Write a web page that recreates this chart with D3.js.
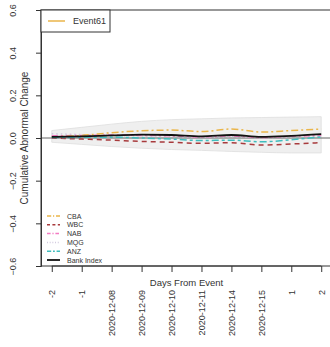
<!DOCTYPE html>
<html>
<head>
<meta charset="utf-8">
<script src="https://cdnjs.cloudflare.com/ajax/libs/d3/7.8.5/d3.min.js"></script>
<style>
  body { margin: 0; background: #fff; }
  svg { font-family: "Liberation Sans", Arial, sans-serif; }
</style>
</head>
<body>
<svg id="chart" width="330" height="347"></svg>
<script>
// tick labels on the x axis (day offsets and trading dates)
var dayLabels = ["-2", "-1", "2020-12-08", "2020-12-09", "2020-12-10", "2020-12-11", "2020-12-14", "2020-12-15", "1", "2"];
var yTicks = [-0.6, -0.4, -0.2, 0.0, 0.2, 0.4, 0.6];

// confidence band around the index
var bandUpper = [0.035, 0.05, 0.065, 0.078, 0.086, 0.09, 0.094, 0.096, 0.098, 0.10];
var bandLower = [-0.02, -0.03, -0.04, -0.048, -0.054, -0.058, -0.063, -0.067, -0.07, -0.07];

// cumulative abnormal change per bank
var cba  = [0.005, 0.012, 0.025, 0.034, 0.037, 0.03, 0.042, 0.028, 0.035, 0.042];
var wbc  = [0.0, -0.005, -0.01, -0.016, -0.02, -0.025, -0.022, -0.033, -0.028, -0.022];
var nab  = [0.01, 0.012, 0.014, 0.012, 0.01, 0.005, 0.01, 0.002, 0.008, 0.012];
var mqg  = [0.02, 0.016, 0.012, 0.01, 0.008, 0.004, 0.007, 0.002, 0.006, 0.01];
var anz  = [0.002, 0.003, 0.004, 0.0, -0.005, -0.012, -0.01, -0.018, -0.008, 0.005];
var bank = [0.005, 0.008, 0.012, 0.016, 0.014, 0.008, 0.014, 0.005, 0.01, 0.018];

var seriesNames = ["CBA", "WBC", "NAB", "MQG", "ANZ", "Bank Index"];
var seriesValues = [cba, wbc, nab, mqg, anz, bank];
var seriesColors = ["#eab54a", "#a83a3c", "#f47cc3", "#cfc6dc", "#3fbdbd", "#111111"];
var seriesDash = ["7 3 2 3", "5 4", "6 3 2 3", "1.5 3", "7 3 3 3", null];
var seriesWidth = [1.5, 1.5, 1.5, 1.5, 1.5, 1.8];

var svg = d3.select("#chart");
var plotL = 41, plotR = 332, plotT = 10, plotB = 266;

// R style: 4% padding on x, exact limits on y
var n = dayLabels.length;
var pad = (n - 1) * 0.04;
var x = d3.scaleLinear().domain([1 - pad, n + pad]).range([plotL, plotR]);
var y = d3.scaleLinear().domain([-0.6, 0.6]).range([plotB, plotT]);

var idx = d3.range(1, n + 1);

// band
var area = d3.area()
  .x(function (d, i) { return x(i + 1); })
  .y0(function (d, i) { return y(bandLower[i]); })
  .y1(function (d) { return y(d); })
  .curve(d3.curveMonotoneX);
svg.append("path")
  .datum(bandUpper)
  .attr("d", area)
  .attr("fill", "#efefef")
  .attr("stroke", "#dedede")
  .attr("stroke-width", 0.8);

// zero line
svg.append("line")
  .attr("x1", plotL).attr("x2", plotR)
  .attr("y1", y(0)).attr("y2", y(0))
  .attr("stroke", "#666").attr("stroke-width", 1);

// series
var line = d3.line()
  .x(function (d, i) { return x(i + 1); })
  .y(function (d) { return y(d); })
  .curve(d3.curveMonotoneX);

// draw faint series first, index last
[3, 2, 1, 0, 4, 5].forEach(function (k) {
  svg.append("path")
    .datum(seriesValues[k])
    .attr("d", line)
    .attr("fill", "none")
    .attr("stroke", seriesColors[k])
    .attr("stroke-width", seriesWidth[k])
    .attr("stroke-dasharray", seriesDash[k]);
});

// plot box
svg.append("rect")
  .attr("x", plotL).attr("y", plotT)
  .attr("width", plotR - plotL).attr("height", plotB - plotT)
  .attr("fill", "none").attr("stroke", "#333").attr("stroke-width", 1);

// y axis
var yAxis = svg.append("g")
  .attr("transform", "translate(" + plotL + ",0)")
  .call(d3.axisLeft(y).tickValues(yTicks).tickSize(5).tickFormat(d3.format(".1f")));
yAxis.select(".domain").attr("stroke", "#333");
yAxis.selectAll(".tick line").attr("stroke", "#333");
yAxis.selectAll(".tick text")
  .attr("x", null).attr("dy", null)
  .attr("transform", "translate(-28,0) rotate(-90)")
  .attr("text-anchor", "middle")
  .attr("dominant-baseline", "central")
  .attr("font-size", 9)
  .attr("font-family", "Liberation Sans, Arial, sans-serif")
  .attr("fill", "#333");

// x axis
var xAxis = svg.append("g")
  .attr("transform", "translate(0," + plotB + ")")
  .call(d3.axisBottom(x).tickValues(idx).tickSize(6)
    .tickFormat(function (d) { return dayLabels[d - 1]; }));
xAxis.select(".domain").remove();
xAxis.append("line")
  .attr("x1", x(1)).attr("x2", x(n))
  .attr("stroke", "#333");
xAxis.selectAll(".tick line").attr("stroke", "#333");
xAxis.selectAll(".tick text")
  .attr("y", null).attr("dy", null)
  .attr("transform", "translate(0,24) rotate(-90)")
  .attr("text-anchor", "end")
  .attr("dominant-baseline", "central")
  .attr("font-size", 9)
  .attr("font-family", "Liberation Sans, Arial, sans-serif")
  .attr("fill", "#333");

// axis titles
svg.append("text")
  .attr("transform", "translate(24," + ((plotT + plotB) / 2) + ") rotate(-90)")
  .attr("text-anchor", "middle")
  .attr("dominant-baseline", "central")
  .attr("font-size", 10)
  .attr("fill", "#333")
  .text("Cumulative Abnormal Change");
svg.append("text")
  .attr("x", (plotL + plotR) / 2).attr("y", 286)
  .attr("text-anchor", "middle")
  .attr("font-size", 9.5)
  .attr("fill", "#333")
  .text("Days From Event");

// top legend
var leg1 = svg.append("g").attr("transform", "translate(" + plotL + "," + plotT + ")");
leg1.append("rect")
  .attr("width", 69).attr("height", 22)
  .attr("fill", "#fff").attr("stroke", "#333").attr("stroke-width", 1);
leg1.append("line")
  .attr("x1", 7).attr("x2", 24).attr("y1", 11).attr("y2", 11)
  .attr("stroke", "#eab54a").attr("stroke-width", 1.5);
leg1.append("text")
  .attr("x", 32).attr("y", 11)
  .attr("dominant-baseline", "central")
  .attr("font-size", 9).attr("fill", "#333")
  .text("Event61");

// bottom legend
var leg2 = svg.append("g").attr("transform", "translate(" + plotL + ",216)");
seriesNames.forEach(function (name, k) {
  var g = leg2.append("g").attr("transform", "translate(0," + (k * 8.8) + ")");
  g.append("line")
    .attr("x1", 6).attr("x2", 19)
    .attr("stroke", seriesColors[k])
    .attr("stroke-width", seriesWidth[k])
    .attr("stroke-dasharray", seriesDash[k] ? seriesDash[k].split(" ").map(function (v) { return v * 0.6; }).join(" ") : null);
  g.append("text")
    .attr("x", 26)
    .attr("dominant-baseline", "central")
    .attr("font-size", 7).attr("fill", "#333")
    .text(name);
});
</script>
</body>
</html>
